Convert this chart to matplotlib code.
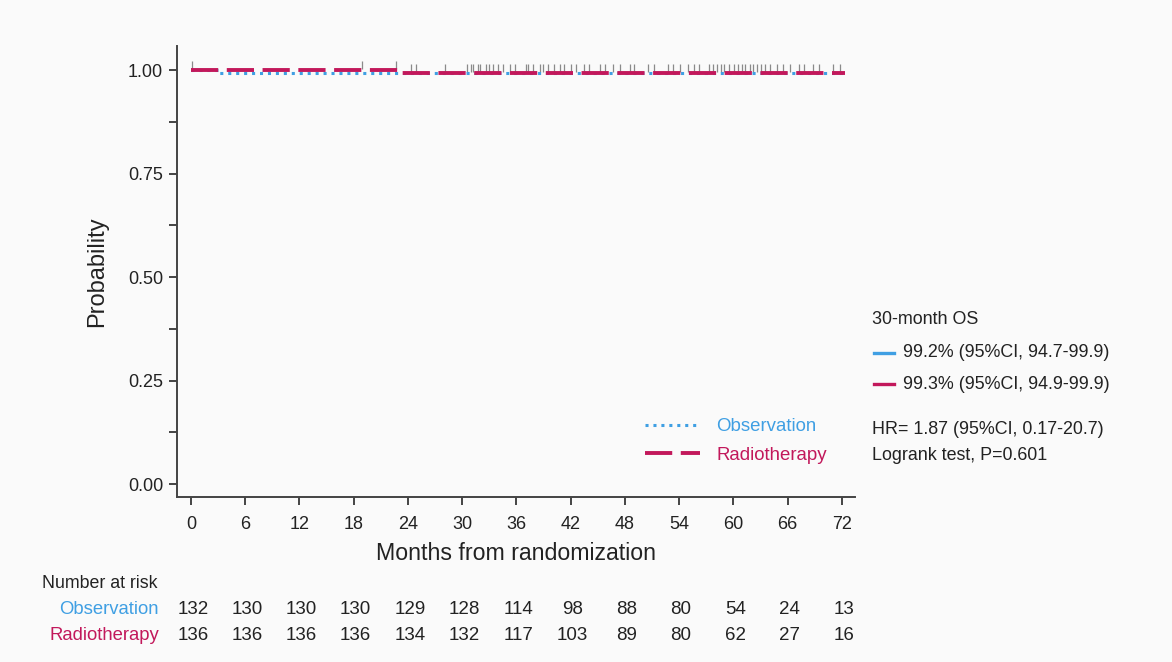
import matplotlib
matplotlib.use("Agg")
import matplotlib.pyplot as plt
from matplotlib.lines import Line2D
import numpy as np

plt.rcParams['font.family'] = ['Liberation Sans', 'DejaVu Sans']

# Kaplan-Meier step data (event times in months, survival after each event)
obs_times = [0.0, 3.0]
obs_surv = [1.0, 0.992]
obs_end = 72.3
rad_times = [0.0, 23.0]
rad_surv = [1.0, 0.993]
rad_end = 72.3

# Censoring times (months)
obs_censor = [0.1, 24.9, 30.5, 31.2, 32.0, 32.6, 33.4, 34.5, 35.8, 37.3, 38.6,
              39.5, 40.8, 42.0, 43.5, 45.2, 46.7, 49.0, 50.6, 52.8, 54.1, 55.6,
              57.3, 58.2, 59.0, 60.1, 60.9, 61.8, 62.6, 63.5, 64.8, 66.2, 67.8,
              69.5, 71.8]
rad_censor = [18.9, 22.7, 24.3, 28.1, 31.0, 31.8, 33.0, 34.0, 35.3, 37.0, 37.8,
              38.9, 40.1, 41.3, 42.6, 44.0, 45.8, 47.5, 48.6, 51.2, 53.3, 55.0,
              56.2, 57.7, 58.6, 59.5, 60.5, 61.3, 62.2, 63.0, 64.0, 65.5, 67.3,
              68.8, 71.0]

# Number at risk
risk_times = [0, 6, 12, 18, 24, 30, 36, 42, 48, 54, 60, 66, 72]
obs_risk = [132, 130, 130, 130, 129, 128, 114, 98, 88, 80, 54, 24, 13]
rad_risk = [136, 136, 136, 136, 134, 132, 117, 103, 89, 80, 62, 27, 16]

group_names = ["Observation", "Radiotherapy"]
os_text = ["99.2% (95%CI, 94.7-99.9)", "99.3% (95%CI, 94.9-99.9)"]
hr_text = "HR= 1.87 (95%CI, 0.17-20.7)"
p_text = "Logrank test, P=0.601"

c_obs = "#3f9fe3"
c_rad = "#c2185b"
c_cens = "#8a8a8a"
bg = "#fafafa"
ink = "#222222"

obs_ls = (0, (1, 1.6))
rad_ls = (0, (7, 2.2))

fig = plt.figure(figsize=(11.72, 6.62), dpi=100, facecolor=bg)
ax = fig.add_axes([0.151, 0.2492, 0.5785, 0.6813], facecolor=bg)


def step_xy(times, surv, end):
    xs = list(times) + [end]
    ys = list(surv) + [surv[-1]]
    return xs, ys


def surv_at(times, surv, t):
    idx = np.searchsorted(times, t, side="right") - 1
    return np.asarray(surv)[idx]


xo, yo = step_xy(obs_times, obs_surv, obs_end)
xr, yr = step_xy(rad_times, rad_surv, rad_end)

ax.step(xo, yo, where="post", color=c_obs, lw=2.2, ls=obs_ls, zorder=3)
ax.step(xr, yr, where="post", color=c_rad, lw=2.8, ls=rad_ls, zorder=4)

# Censoring ticks sitting on top of each curve
for ct, tt, ss in ((obs_censor, obs_times, obs_surv), (rad_censor, rad_times, rad_surv)):
    ct = np.asarray(ct)
    base = surv_at(tt, ss, ct)
    ax.vlines(ct, base + 0.003, base + 0.022, color=c_cens, lw=0.9, zorder=2)

ax.set_xlim(-1.55, 73.44)
ax.set_ylim(-0.0314, 1.058)
ax.set_xticks(risk_times)
ax.set_yticks([0, 0.25, 0.5, 0.75, 1.0])
ax.set_yticklabels(["0.00", "0.25", "0.50", "0.75", "1.00"])
ax.set_yticks(np.arange(0.125, 1.0, 0.25), minor=True)
for s in ("top", "right"):
    ax.spines[s].set_visible(False)
for s in ("left", "bottom"):
    ax.spines[s].set_color("#444444")
    ax.spines[s].set_linewidth(1.4)
ax.tick_params(axis="both", which="both", direction="out", length=6, width=1.4,
               color="#444444", labelsize=13, labelcolor=ink)
ax.tick_params(axis="y", pad=4)
ax.tick_params(axis="x", pad=8)
ax.set_xlabel("Months from randomization", fontsize=16.7, color=ink, labelpad=6)
ax.set_ylabel("Probability", fontsize=17, color=ink, labelpad=14)

# In-plot legend
handles = [Line2D([], [], color=c_obs, lw=2.2, ls=obs_ls),
           Line2D([], [], color=c_rad, lw=2.8, ls=rad_ls)]
leg = ax.legend(handles, group_names, loc="lower left", bbox_to_anchor=(0.665, 0.037),
                frameon=False, fontsize=13.4, handlelength=3.0, handletextpad=0.85,
                labelspacing=0.61, labelcolor=[c_obs, c_rad])

# Right-hand summary text
fs_r = 12.9
fx = 872 / 1172
fig.text(fx, 1 - 320 / 662, "30-month OS", fontsize=fs_r, color=ink, va="center")
for yy, col, txt in ((353, c_obs, os_text[0]), (384, c_rad, os_text[1])):
    fy = 1 - yy / 662
    fig.add_artist(Line2D([874 / 1172, 894 / 1172], [fy, fy], color=col, lw=2.4))
    fig.text(903 / 1172, fy, txt, fontsize=fs_r, color=ink, va="center")
fig.text(fx, 1 - 430 / 662, hr_text, fontsize=fs_r, color=ink, va="center")
fig.text(fx, 1 - 456 / 662, p_text, fontsize=fs_r, color=ink, va="center")

# Number-at-risk table
trans = matplotlib.transforms.blended_transform_factory(ax.transData, fig.transFigure)
fig.text(42 / 1172, 1 - 583 / 662, "Number at risk", fontsize=12.8, color=ink, va="center")
for yy, col, name, vals in ((609, c_obs, group_names[0], obs_risk),
                            (636, c_rad, group_names[1], rad_risk)):
    fy = 1 - yy / 662
    fig.text(159 / 1172, fy, name, fontsize=13.3, color=col, va="center", ha="right")
    for t, v in zip(risk_times, vals):
        ax.text(t + 0.2, fy, str(v), transform=trans, fontsize=13.5, color=ink,
                ha="center", va="center", clip_on=False)

fig.savefig("out.png", dpi=100, facecolor=bg)
